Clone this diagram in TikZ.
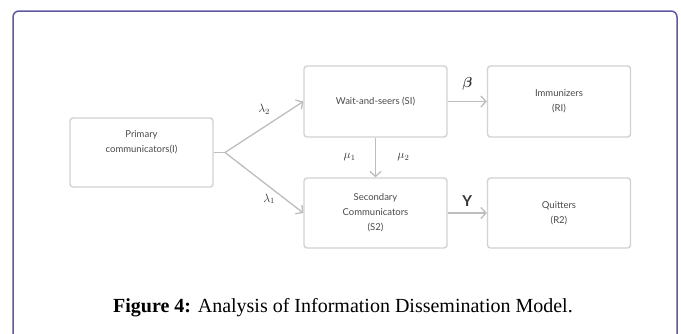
\documentclass[tikz,border=0pt]{standalone}
\usepackage{fontspec}
\setmainfont{Liberation Serif}
\newfontfamily\boxfont{Lato}
\usepackage{amsmath}
\usetikzlibrary{positioning, arrows.meta}

\definecolor{framecol}{HTML}{5E58A2}
\definecolor{boxline}{HTML}{D2D2D2}
\definecolor{arrowcol}{HTML}{BDBDBD}
\definecolor{textcol}{HTML}{4A4A4A}

\tikzset{
	stagebox/.style={draw=boxline, line width=1.4pt, rounded corners=3pt, fill=white, minimum width=143pt, minimum height=71pt, align=center, text=textcol, font=\boxfont\fontsize{9.5}{15}\selectfont},
	flow/.style={draw=arrowcol, line width=1.3pt},
	rate/.style={text=black!80, font=\fontsize{12}{12}\selectfont}
}

\begin{document}
\begin{tikzpicture}[x=1pt, y=-1pt, >={Straight Barb[length=5pt, width=11pt]}]
		\useasboundingbox (0, 0) rectangle (681, 333);
		\clip (0, 0) rectangle (681, 333);
		\draw[framecol, line width=1.5pt, rounded corners=6pt] (13, 345) -- (13, 11) -- (677, 11) -- (677, 345);
		\node[stagebox, minimum height=69pt] (primary) at (141.5, 152.5) {Primary\\communicators(I)\\[6pt]};
		\node[stagebox] (wait) at (375.5, 101.5) {Wait-and-seers (SI)};
		\node[stagebox] (immun) at (559, 101.5) {Immunizers\\(RI)};
		\node[stagebox, minimum height=70pt] (second) at (375.5, 213) {Secondary\\Communicators\\(S2)};
		\node[stagebox, minimum height=70pt] (quit) at (559, 213) {Quitters\\(R2)};
		\coordinate (split) at (225, 152.5);
		\draw[flow] (primary.east) -- (split);
		\draw[flow, ->] (split) -- (wait.west) node[rate, midway, above, yshift=9pt] {$\lambda_2$};
		\draw[flow, ->] (split) -- (second.west) node[rate, midway, below, xshift=5pt, yshift=-7pt] {$\lambda_1$};
		\draw[flow, ->] (wait) -- (second) node[rate, midway, left=16pt] {$\mu_1$} node[rate, midway, right=18pt] {$\mu_2$};
		\draw[flow, ->] (wait) -- (immun) node[rate, midway, above=7pt, font=\fontsize{15}{15}\selectfont] {$\boldsymbol{\beta}$};
		\draw[flow, ->] (second) -- (quit) node[rate, midway, above=3pt, font=\boxfont\bfseries\fontsize{15}{15}\selectfont] {Y};
		\node[font=\fontsize{20}{24}\selectfont] (caption) at (343, 308) {\textbf{Figure 4:} Analysis of Information Dissemination Model.};
	\end{tikzpicture}
\end{document}
